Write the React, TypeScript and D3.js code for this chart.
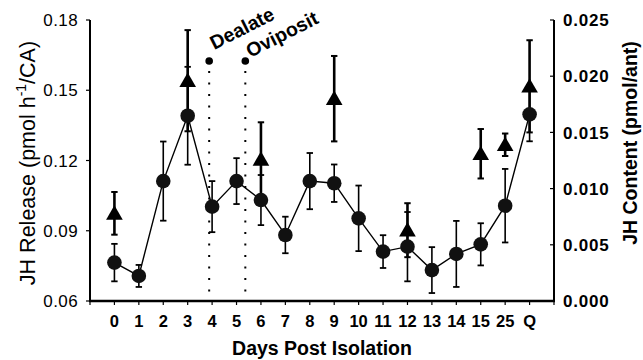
import React from "react";
import * as d3 from "d3";

const categories = ["0","1","2","3","4","5","6","7","8","9","10","11","12","13","14","15","25","Q"];
const releaseValues = [0.0764,0.0707,0.1112,0.1391,0.1003,0.1112,0.1031,0.0882,0.1112,0.1103,0.0953,0.0811,0.0832,0.0732,0.0801,0.0842,0.1007,0.1397];
const releaseErrors = [0.0080,0.0047,0.0169,0.0209,0.0109,0.0098,0.0107,0.0078,0.0120,0.0080,0.0140,0.0070,0.0148,0.0098,0.0141,0.0090,0.0157,0.0115];
const contentCategories = ["0","3","6","9","12","15","25","Q"];
const contentValues = [0.0078,0.0196,0.0126,0.0180,0.0063,0.0131,0.0139,0.0191];
const contentErrors = [0.0019,0.0045,0.0033,0.0038,0.0024,0.0022,0.0010,0.0041];
const leftTicks = [0.06,0.09,0.12,0.15,0.18];
const rightTicks = [0,0.005,0.01,0.015,0.02,0.025];
const eventLabels = ["Dealate", "Oviposit"];
const eventPositions = [3.88, 5.36];

const FONT = "'Liberation Sans', Arial, Helvetica, sans-serif";

export default function App() {
  const W = 643, H = 360;
  const x = d3.scaleLinear().domain([-1, categories.length]).range([90, 554]);
  const yL = d3.scaleLinear().domain([0.06, 0.18]).range([301, 20]);
  const yR = d3.scaleLinear().domain([0, 0.025]).range([301, 20]);
  const line = d3.line<number>().x((_, i) => x(i)).y((d) => yL(d));
  const tri = d3.symbol().type(d3.symbolTriangle).size(120);
  const xTicks = d3.range(-1, categories.length + 1);
  const cap = 3.2;
  const labelDy = [50, 58];

  return (
    <svg width={W} height={H} style={{ position: "absolute", left: 0, top: 0, background: "#fff" }} fontFamily={FONT}>
      <rect width={W} height={H} fill="#fff" />
      {/* axes */}
      <line x1={x(-1)} x2={x(-1)} y1={yL(0.18)} y2={yL(0.06) + 1} stroke="#000" strokeWidth={2} />
      <line x1={x(categories.length)} x2={x(categories.length)} y1={yR(0.025)} y2={yR(0) + 1} stroke="#000" strokeWidth={2} />
      <line x1={x(-1) - 1} x2={x(categories.length) + 1} y1={yL(0.06)} y2={yL(0.06)} stroke="#000" strokeWidth={2.5} />
      {leftTicks.map((t) => (
        <g key={"l" + t}>
          <line x1={x(-1) - 4} x2={x(-1)} y1={yL(t)} y2={yL(t)} stroke="#000" strokeWidth={1.2} />
          <text x={78} y={yL(t)} dy="0.36em" textAnchor="end" fontSize={17} letterSpacing={0.4} fill="#000">{t.toFixed(2)}</text>
        </g>
      ))}
      {rightTicks.map((t) => (
        <g key={"r" + t}>
          <line x1={x(categories.length) - 4} x2={x(categories.length)} y1={yR(t)} y2={yR(t)} stroke="#000" strokeWidth={1.2} />
          <text x={563} y={yR(t)} dy="0.36em" textAnchor="start" fontSize={17} fontWeight="bold" letterSpacing={0.8} fill="#000">{t.toFixed(3)}</text>
        </g>
      ))}
      {xTicks.map((i) => (
        <line key={"x" + i} x1={x(i)} x2={x(i)} y1={yL(0.06)} y2={yL(0.06) + 4} stroke="#000" strokeWidth={1.2} />
      ))}
      {categories.map((c, i) => (
        <text key={"c" + c} x={x(i)} y={327} textAnchor="middle" fontSize={16.5} fontWeight="bold" fill="#000">{c}</text>
      ))}
      <text x={(x(-1) + x(categories.length)) / 2} y={355} textAnchor="middle" fontSize={19.5} fontWeight="bold" fill="#000">Days Post Isolation</text>
      <text transform={`translate(35,163) rotate(-90)`} textAnchor="middle" fontSize={21.5} fill="#000">
        JH Release (pmol h<tspan fontSize={14} dy={-9}>-1</tspan><tspan dy={9}>/CA)</tspan>
      </text>
      <text transform={`translate(637,143) rotate(-90)`} textAnchor="middle" fontSize={19.5} fontWeight="bold" fill="#000">JH Content (pmol/ant)</text>

      {/* event markers */}
      {eventLabels.map((lab, k) => (
        <g key={lab}>
          <line x1={x(eventPositions[k])} x2={x(eventPositions[k])} y1={71} y2={yL(0.06)} stroke="#000" strokeWidth={2} strokeDasharray="2,9.5" />
          <circle cx={x(eventPositions[k])} cy={61} r={3.8} fill="#000" />
          <text transform={`translate(${x(eventPositions[k]) + 5},${labelDy[k]}) rotate(-27)`} fontSize={19.5} fontWeight="bold" fill="#000">{lab}</text>
        </g>
      ))}

      {/* triangle series error bars */}
      {contentCategories.map((c, k) => {
        const i = categories.indexOf(c);
        const cx = x(i);
        const t = yR(contentValues[k] + contentErrors[k]);
        const b = yR(contentValues[k] - contentErrors[k]);
        return (
          <g key={"te" + c}>
            <line x1={cx} x2={cx} y1={t} y2={b} stroke="#000" strokeWidth={2.6} />
            <line x1={cx - cap} x2={cx + cap} y1={t} y2={t} stroke="#000" strokeWidth={2} />
            <line x1={cx - cap} x2={cx + cap} y1={b} y2={b} stroke="#000" strokeWidth={2} />
          </g>
        );
      })}

      {/* circle series */}
      {releaseValues.map((v, i) => {
        const cx = x(i);
        const t = yL(v + releaseErrors[i]);
        const b = yL(v - releaseErrors[i]);
        return (
          <g key={"ce" + i}>
            <line x1={cx} x2={cx} y1={t} y2={b} stroke="#000" strokeWidth={1.6} />
            <line x1={cx - cap} x2={cx + cap} y1={t} y2={t} stroke="#000" strokeWidth={1.8} />
            <line x1={cx - cap} x2={cx + cap} y1={b} y2={b} stroke="#000" strokeWidth={1.8} />
          </g>
        );
      })}
      <path d={line(releaseValues) || ""} fill="none" stroke="#000" strokeWidth={1.4} />
      {releaseValues.map((v, i) => (
        <circle key={"c" + i} cx={x(i)} cy={yL(v)} r={7.3} fill="#111" />
      ))}
      {contentCategories.map((c, k) => {
        const i = categories.indexOf(c);
        return (
          <path key={"t" + c} d={tri() || ""} transform={`translate(${x(i)},${yR(contentValues[k]) + 1.5})`} fill="#000" />
        );
      })}
    </svg>
  );
}
